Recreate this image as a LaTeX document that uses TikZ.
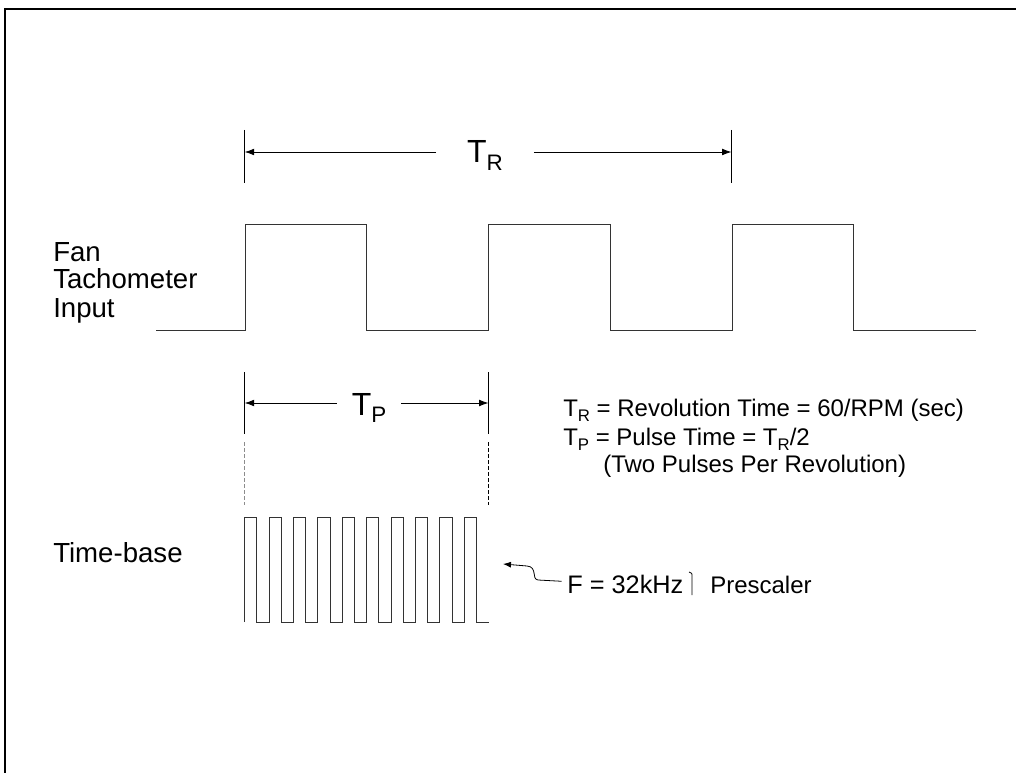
\documentclass[tikz,border=0pt]{standalone}
\usepackage{fontspec}
\setmainfont{Liberation Sans}
\usetikzlibrary{arrows.meta}
\newcommand{\tsub}[1]{\raisebox{-0.22em}{\scalebox{0.7}{#1}}}
\tikzset{
  dimline/.style={-{Latex[length=7pt,width=5pt]}, line width=0.6pt},
  dimtick/.style={line width=0.6pt},
  wave/.style={line width=0.7pt, black!80},
  lbl/.style={font=\fontsize{18}{21}\selectfont, inner sep=0pt, anchor=base west, align=left},
  sidelbl/.style={lbl, font=\fontsize{20.7}{21}\selectfont},
  biglbl/.style={font=\fontsize{24}{28}\selectfont, anchor=base, inner ysep=0pt},
}
\begin{document}
\begin{tikzpicture}[x=0.75pt,y=-0.75pt]
\useasboundingbox (0,0) rectangle (1016,773);
% frame
\draw[line width=1.5pt] (5,773) -- (5,9) -- (1016,9);

% revolution time
\coordinate (TRa) at (244.7,152);
\coordinate (TRb) at (731.5,152);
\draw[dimtick] (244.7,130) -- (244.7,183);
\draw[dimtick] (731.5,130) -- (731.5,183);
\node[biglbl, inner xsep=23pt] (TR) at (485,163) {T\tsub{R}};
\draw[dimline] (TR.west |- TRa) -- (TRa);
\draw[dimline] (TR.east |- TRb) -- (TRb);

% tachometer signal
\node[sidelbl] (fanlbl) at (53,317) {Fan\\Tachometer\\Input};
\draw[wave] (156,330) -- (245,330)
  \foreach \k in {0,1,2} { -- ++(0,-106) -- ++(121.5,0) -- ++(0,106) -- ++(122,0) };

% pulse time
\coordinate (TPa) at (244.7,403);
\coordinate (TPb) at (488.5,403);
\draw[dimtick] (244.7,372) -- (244.7,434);
\draw[dimtick] (488.5,372) -- (488.5,434);
\node[biglbl, inner xsep=11pt] (TP) at (369,415) {T\tsub{P}};
\draw[dimline] (TP.west |- TPa) -- (TPa);
\draw[dimline] (TP.east |- TPb) -- (TPb);
\draw[dimtick, black!45, dash pattern=on 3pt off 1.5pt] (244.7,442) -- (244.7,505);
\draw[dimtick, dash pattern=on 3pt off 1.5pt] (488.5,442) -- (488.5,505);

% equations
\node[lbl] (eqR) at (563,416.7) {T\tsub{R} = Revolution Time = 60/RPM (sec)};
\node[lbl] (eqP) at (563,445) {T\tsub{P} = Pulse Time = T\tsub{R}/2};
\node[lbl] (eqNote) at (603,472) {(Two Pulses Per Revolution)};

% time-base
\node[sidelbl] (baselbl) at (53,562) {Time-base};
\draw[wave] (244.7,622)
  \foreach \k in {0,...,9} { -- ++(0,-105) -- ++(12.2,0) -- ++(0,105) -- ++(12.2,0) };

% prescaler clock
\node[lbl, font=\fontsize{19}{21}\selectfont] (freq) at (567,593) {F = 32kHz};
\node[lbl] (presc) at (710,593) {Prescaler};
\coordinate (fhead) at (503,564);
\draw[-{Latex[length=6pt,width=4.5pt]}, line width=0.6pt]
  ([xshift=-4pt,yshift=2pt]freq.west) -- (538,580) .. controls (531,579) and (538,567) .. (527,566) -- (fhead);
\draw[line width=0.6pt] (689,572) .. controls (692,573) .. (692,577) -- (692,595);
\end{tikzpicture}
\end{document}
